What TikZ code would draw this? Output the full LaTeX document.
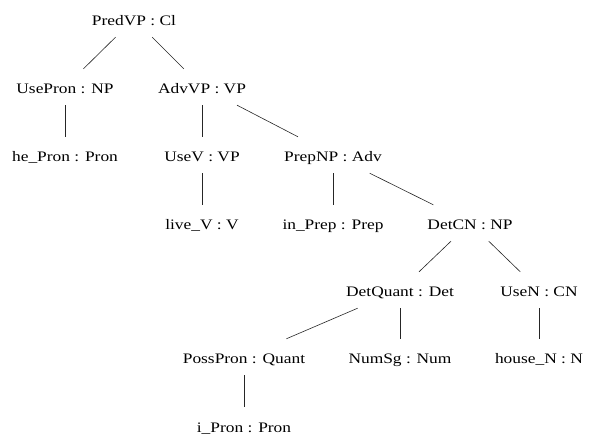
\documentclass[tikz,border=0pt]{standalone}
\usepackage{fontspec}
\setmainfont[FakeStretch=1.2]{Liberation Serif}
\usepackage{tikz}

\begin{document}
\begin{tikzpicture}[%
      x=1pt, y=-1pt,
      lbl/.style={anchor=base, inner xsep=2pt, inner ysep=0pt,
        text height=25pt, text depth=11pt, font=\fontsize{14.5}{16}\selectfont},
      edge/.style={color=black!85, line width=0.6pt},
      ]
      \useasboundingbox (0,0) rectangle (589,435);

      \node [lbl] (predvp) at (134,26) {PredVP : Cl};

      \node [lbl] (usepron) at (65,94) {UsePron : NP};
      \node [lbl] (advvp) at (202,94) {AdvVP : VP};

      \node [lbl] (hepron) at (65,162) {he\_Pron : Pron};
      \node [lbl] (usev) at (202,162) {UseV : VP};
      \node [lbl] (prepnp) at (333,162) {PrepNP : Adv};

      \node [lbl] (livev) at (202,230) {live\_V : V};
      \node [lbl] (inprep) at (333,230) {in\_Prep : Prep};
      \node [lbl] (detcn) at (470,230) {DetCN : NP};

      \node [lbl] (detquant) at (400,297) {DetQuant : Det};
      \node [lbl] (usen) at (539,297) {UseN : CN};

      \node [lbl] (posspron) at (244,364) {PossPron : Quant};
      \node [lbl] (numsg) at (400,364) {NumSg : Num};
      \node [lbl] (housen) at (539,364) {house\_N : N};

      \node [lbl] (ipron) at (244,432) {i\_Pron : Pron};

      \draw [edge] (predvp) -- (usepron);
      \draw [edge] (predvp) -- (advvp);
      \draw [edge] (usepron) -- (hepron);
      \draw [edge] (advvp) -- (usev);
      \draw [edge] (advvp) -- (prepnp);
      \draw [edge] (usev) -- (livev);
      \draw [edge] (prepnp) -- (inprep);
      \draw [edge] (prepnp) -- (detcn);
      \draw [edge] (detcn) -- (detquant);
      \draw [edge] (detcn) -- (usen);
      \draw [edge] (detquant) -- (posspron);
      \draw [edge] (detquant) -- (numsg);
      \draw [edge] (usen) -- (housen);
      \draw [edge] (posspron) -- (ipron);
\end{tikzpicture}
\end{document}
